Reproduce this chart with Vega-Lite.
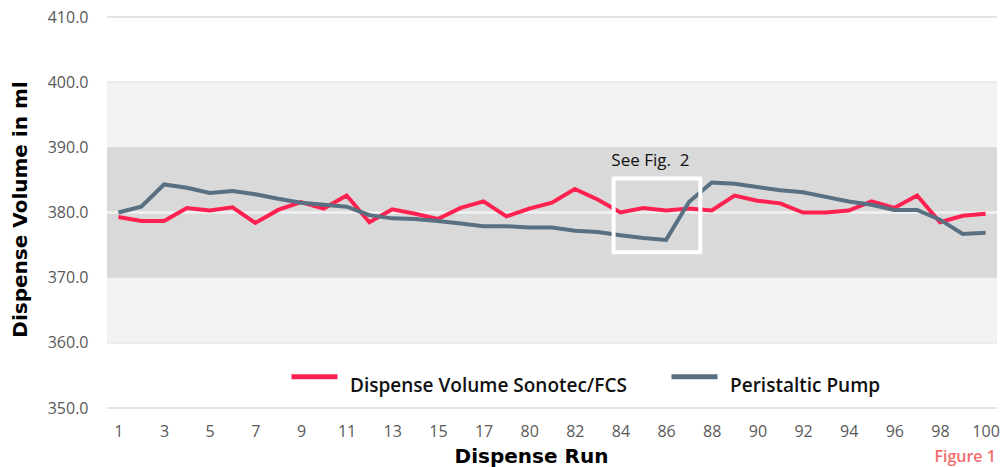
{
  "$schema": "https://vega.github.io/schema/vega-lite/v6.json",
  "width": 890,
  "height": 391,
  "autosize": "none",
  "padding": {"left": 107, "top": 17, "right": 5, "bottom": 59},
  "background": "white",
  "config": {"view": {"stroke": null}},
  "datasets": {
    "runs": [
      {"run": "1", "idx": 0, "Dispense Volume Sonotec/FCS": 379.3, "Peristaltic Pump": 380.0},
      {"run": "2", "idx": 1, "Dispense Volume Sonotec/FCS": 378.7, "Peristaltic Pump": 380.9},
      {"run": "3", "idx": 2, "Dispense Volume Sonotec/FCS": 378.7, "Peristaltic Pump": 384.3},
      {"run": "4", "idx": 3, "Dispense Volume Sonotec/FCS": 380.7, "Peristaltic Pump": 383.8},
      {"run": "5", "idx": 4, "Dispense Volume Sonotec/FCS": 380.3, "Peristaltic Pump": 383.0},
      {"run": "6", "idx": 5, "Dispense Volume Sonotec/FCS": 380.8, "Peristaltic Pump": 383.3},
      {"run": "7", "idx": 6, "Dispense Volume Sonotec/FCS": 378.4, "Peristaltic Pump": 382.8},
      {"run": "8", "idx": 7, "Dispense Volume Sonotec/FCS": 380.4, "Peristaltic Pump": 382.1},
      {"run": "9", "idx": 8, "Dispense Volume Sonotec/FCS": 381.6, "Peristaltic Pump": 381.5},
      {"run": "10", "idx": 9, "Dispense Volume Sonotec/FCS": 380.6, "Peristaltic Pump": 381.2},
      {"run": "11", "idx": 10, "Dispense Volume Sonotec/FCS": 382.6, "Peristaltic Pump": 380.9},
      {"run": "12", "idx": 11, "Dispense Volume Sonotec/FCS": 378.5, "Peristaltic Pump": 379.6},
      {"run": "13", "idx": 12, "Dispense Volume Sonotec/FCS": 380.5, "Peristaltic Pump": 379.1},
      {"run": "14", "idx": 13, "Dispense Volume Sonotec/FCS": 379.8, "Peristaltic Pump": 379.0},
      {"run": "15", "idx": 14, "Dispense Volume Sonotec/FCS": 379.0, "Peristaltic Pump": 378.7},
      {"run": "16", "idx": 15, "Dispense Volume Sonotec/FCS": 380.7, "Peristaltic Pump": 378.3},
      {"run": "17", "idx": 16, "Dispense Volume Sonotec/FCS": 381.7, "Peristaltic Pump": 377.9},
      {"run": "18", "idx": 17, "Dispense Volume Sonotec/FCS": 379.4, "Peristaltic Pump": 377.9},
      {"run": "80", "idx": 18, "Dispense Volume Sonotec/FCS": 380.6, "Peristaltic Pump": 377.7},
      {"run": "81", "idx": 19, "Dispense Volume Sonotec/FCS": 381.5, "Peristaltic Pump": 377.7},
      {"run": "82", "idx": 20, "Dispense Volume Sonotec/FCS": 383.6, "Peristaltic Pump": 377.2},
      {"run": "83", "idx": 21, "Dispense Volume Sonotec/FCS": 382.0, "Peristaltic Pump": 377.0},
      {"run": "84", "idx": 22, "Dispense Volume Sonotec/FCS": 380.0, "Peristaltic Pump": 376.5},
      {"run": "85", "idx": 23, "Dispense Volume Sonotec/FCS": 380.7, "Peristaltic Pump": 376.1},
      {"run": "86", "idx": 24, "Dispense Volume Sonotec/FCS": 380.3, "Peristaltic Pump": 375.8},
      {"run": "87", "idx": 25, "Dispense Volume Sonotec/FCS": 380.6, "Peristaltic Pump": 381.6},
      {"run": "88", "idx": 26, "Dispense Volume Sonotec/FCS": 380.3, "Peristaltic Pump": 384.6},
      {"run": "89", "idx": 27, "Dispense Volume Sonotec/FCS": 382.6, "Peristaltic Pump": 384.4},
      {"run": "90", "idx": 28, "Dispense Volume Sonotec/FCS": 381.8, "Peristaltic Pump": 383.9},
      {"run": "91", "idx": 29, "Dispense Volume Sonotec/FCS": 381.4, "Peristaltic Pump": 383.4},
      {"run": "92", "idx": 30, "Dispense Volume Sonotec/FCS": 380.0, "Peristaltic Pump": 383.1},
      {"run": "93", "idx": 31, "Dispense Volume Sonotec/FCS": 380.0, "Peristaltic Pump": 382.4},
      {"run": "94", "idx": 32, "Dispense Volume Sonotec/FCS": 380.3, "Peristaltic Pump": 381.7},
      {"run": "95", "idx": 33, "Dispense Volume Sonotec/FCS": 381.7, "Peristaltic Pump": 381.2},
      {"run": "96", "idx": 34, "Dispense Volume Sonotec/FCS": 380.7, "Peristaltic Pump": 380.4},
      {"run": "97", "idx": 35, "Dispense Volume Sonotec/FCS": 382.6, "Peristaltic Pump": 380.4},
      {"run": "98", "idx": 36, "Dispense Volume Sonotec/FCS": 378.5, "Peristaltic Pump": 378.9},
      {"run": "99", "idx": 37, "Dispense Volume Sonotec/FCS": 379.5, "Peristaltic Pump": 376.7},
      {"run": "100", "idx": 38, "Dispense Volume Sonotec/FCS": 379.8, "Peristaltic Pump": 376.9}
    ]
  },
  "data": {"name": "runs"},
  "encoding": {
    "x": {
      "field": "idx",
      "type": "quantitative",
      "scale": {"domain": [-0.5, 38.5], "nice": false, "zero": false},
      "axis": {
        "values": [0, 2, 4, 6, 8, 10, 12, 14, 16, 18, 20, 22, 24, 26, 28, 30, 32, 34, 36, 38],
        "labelExpr": "datum.value <= 16 ? format(datum.value + 1, 'd') : format(datum.value + 62, 'd')",
        "title": "Dispense Run",
        "titleFont": "DejaVu Sans",
        "titleFontSize": 20,
        "titleFontWeight": "bold",
        "titleColor": "#000000",
        "titleX": 424,
        "titleY": 38,
        "titleAlign": "center",
        "titleBaseline": "top",
        "labelFont": "Open Sans",
        "labelFontSize": 16,
        "labelColor": "#595959",
        "labelPadding": 15,
        "labelBaseline": "top",
        "labelFlush": false,
        "labelOverlap": false,
        "ticks": false,
        "domain": false,
        "grid": false
      }
    }
  },
  "layer": [
    {
      "mark": {"type": "rule", "color": "#d9d9d9", "strokeWidth": 1.5},
      "data": {"values": [{"v": 350}, {"v": 360}, {"v": 400}, {"v": 410}]},
      "encoding": {"y": {"field": "v", "type": "quantitative"}, "x": null}
    },
    {
      "mark": {"type": "rect", "color": "#f2f2f2"},
      "data": {"values": [{"lo": 360, "hi": 400}]},
      "encoding": {"y": {"field": "lo", "type": "quantitative"}, "y2": {"field": "hi"}, "x": null}
    },
    {
      "mark": {"type": "rect", "color": "#d9d9d9"},
      "data": {"values": [{"lo": 370, "hi": 390}]},
      "encoding": {"y": {"field": "lo", "type": "quantitative"}, "y2": {"field": "hi"}, "x": null}
    },
    {
      "mark": {"type": "rule", "color": "#f2f2f2", "strokeWidth": 2.5},
      "data": {"values": [{"v": 380}]},
      "encoding": {"y": {"field": "v", "type": "quantitative"}, "x": null}
    },
    {
      "transform": [{"fold": ["Dispense Volume Sonotec/FCS", "Peristaltic Pump"], "as": ["series", "value"]}],
      "mark": {"type": "line", "strokeWidth": 4, "strokeJoin": "miter"},
      "encoding": {
        "y": {
          "field": "value",
          "type": "quantitative",
          "scale": {"domain": [350, 410], "nice": false, "zero": false},
          "axis": {
            "values": [350, 360, 370, 380, 390, 400, 410],
            "format": ".1f",
            "title": "Dispense Volume in ml",
            "titleFont": "DejaVu Sans",
            "titleFontSize": 20,
            "titleFontWeight": "bold",
            "titleColor": "#000000",
            "titleX": -87,
            "titleY": 192,
            "titleAngle": -90,
            "titleAlign": "center",
            "titleBaseline": "middle",
            "labelFont": "Open Sans",
            "labelFontSize": 16,
            "labelColor": "#595959",
            "labelPadding": 19,
            "ticks": false,
            "domain": false,
            "grid": false
          }
        },
        "color": {
          "field": "series",
          "type": "nominal",
          "scale": {"domain": ["Dispense Volume Sonotec/FCS", "Peristaltic Pump"], "range": ["#ff2150", "#587082"]},
          "legend": {
            "orient": "none",
            "legendX": 182,
            "legendY": 334,
            "direction": "horizontal",
            "title": null,
            "symbolType": "stroke",
            "symbolSize": 2116,
            "symbolStrokeWidth": 5,
            "labelFont": "Open Sans",
            "labelFontSize": 19,
            "labelFontWeight": 600,
            "labelColor": "#111111",
            "labelOffset": 10,
            "labelBaseline": "top",
            "labelLimit": 400,
            "columnPadding": 34
          }
        }
      }
    },
    {
      "mark": {"type": "rect", "fill": null, "fillOpacity": 0, "stroke": "white", "strokeWidth": 4},
      "data": {"values": [{"x1": 21.7, "x2": 25.5, "y1": 373.9, "y2": 385.2}]},
      "encoding": {
        "x": {"field": "x1", "type": "quantitative"},
        "x2": {"field": "x2"},
        "y": {"field": "y1", "type": "quantitative"},
        "y2": {"field": "y2"}
      }
    },
    {
      "mark": {"type": "text", "align": "left", "baseline": "middle", "font": "Open Sans", "fontSize": 17, "color": "#111111"},
      "data": {"values": [{"x": 21.6, "y": 387.9, "label": "See Fig.\u00a0 2"}]},
      "encoding": {
        "x": {"field": "x", "type": "quantitative"},
        "y": {"field": "y", "type": "quantitative"},
        "text": {"field": "label"}
      }
    },
    {
      "mark": {"type": "text", "align": "right", "baseline": "middle", "font": "Open Sans", "fontSize": 16, "fontWeight": 600, "color": "#f26d6d", "clip": false},
      "data": {"values": [{"x": 38.45, "y": 342.5, "label": "Figure 1"}]},
      "encoding": {
        "x": {"field": "x", "type": "quantitative"},
        "y": {"field": "y", "type": "quantitative"},
        "text": {"field": "label"}
      }
    }
  ],
  "resolve": {"scale": {"x": "shared", "y": "shared"}}
}
